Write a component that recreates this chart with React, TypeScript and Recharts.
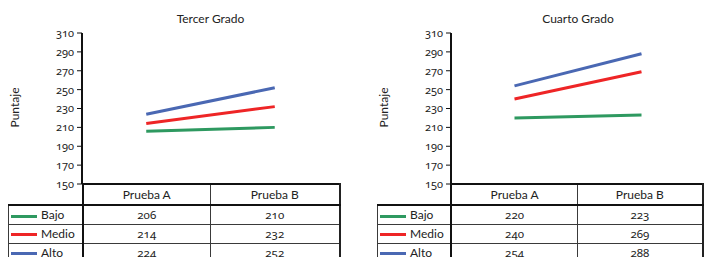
import { Line, LineChart, XAxis, YAxis } from "recharts";

const pruebas = ["Prueba A", "Prueba B"];
const niveles = ["Bajo", "Medio", "Alto"];
const colores = ["#2e9960", "#ee2526", "#4a68b3"];
const yTicks = [150, 170, 190, 210, 230, 250, 270, 290, 310];

const tercerBajo = [206, 210];
const tercerMedio = [214, 232];
const tercerAlto = [224, 252];

const cuartoBajo = [220, 223];
const cuartoMedio = [240, 269];
const cuartoAlto = [254, 288];

const font = "Lato, 'Open Sans', sans-serif";
const numFont = "'Noto Sans', Lato, sans-serif";

interface PanelProps {
  left: number;
  axisX: number;
  colW: number[];
  title: string;
  series: number[][];
}

function Panel({ left, axisX, colW, title, series }: PanelProps) {
  const data = pruebas.map((p, i) => ({
    prueba: p,
    Bajo: series[0][i],
    Medio: series[1][i],
    Alto: series[2][i]
  }));
  const plotW = colW[1] + colW[2];
  const tableLeft = axisX - colW[0];
  const cell = { fontSize: 12, textAlign: "center" as const, padding: 0 };
  const num = { ...cell, fontSize: 11.5, fontFamily: numFont, fontFeatureSettings: "'onum' 1" };
  const thin = "1px solid #3a3a3a";

  return (
    <div style={{ position: "absolute", left, top: 0, width: 352, height: 257 }}>
      <div
        style={{
          position: "absolute",
          left: axisX,
          width: plotW,
          top: 11,
          textAlign: "center",
          fontSize: 12,
          color: "#222"
        }}
      >
        {title}
      </div>
      <div
        style={{
          position: "absolute",
          left: tableLeft - 24,
          top: 100,
          width: 60,
          textAlign: "center",
          fontSize: 12,
          color: "#222",
          transform: "rotate(-90deg)"
        }}
      >
        Puntaje
      </div>
      <div style={{ position: "absolute", left: 0, top: 0, zIndex: 1, pointerEvents: "none" }}>
        <LineChart width={axisX + plotW} height={196} data={data} margin={{ top: 33, right: 0, bottom: 12, left: 0 }}>
          <XAxis dataKey="prueba" scale="band" hide />
          <YAxis
            width={axisX}
            domain={[150, 310]}
            ticks={yTicks}
            interval={0}
            tickSize={5}
            tickMargin={3}
            axisLine={{ stroke: "#111", strokeWidth: 2 }}
            tickLine={{ stroke: "#111", strokeWidth: 1 }}
            tick={{ fill: "#222", fontSize: 11, fontFamily: numFont, style: { fontFeatureSettings: "'onum' 1" } }}
          />
          {niveles.map((n, i) => (
            <Line
              key={n}
              dataKey={n}
              stroke={colores[i]}
              strokeWidth={3}
              dot={false}
              isAnimationActive={false}
            />
          ))}
        </LineChart>
      </div>
      <table
        style={{
          position: "absolute",
          left: tableLeft,
          top: 183,
          borderCollapse: "collapse",
          tableLayout: "fixed",
          color: "#222"
        }}
      >
        <colgroup>
          {colW.map((w, i) => (
            <col key={i} style={{ width: w }} />
          ))}
        </colgroup>
        <tbody>
          <tr style={{ height: 21 }}>
            <td style={{ ...cell, borderRight: "2px solid #111", borderBottom: "2px solid #111" }} />
            {pruebas.map((p, i) => (
              <td
                key={p}
                style={{
                  ...cell,
                  borderTop: "2px solid #111",
                  borderBottom: "2px solid #111",
                  borderRight: i === 1 ? "2px solid #222" : thin
                }}
              >
                {p}
              </td>
            ))}
          </tr>
          {niveles.map((n, r) => (
            <tr key={n} style={{ height: 19 }}>
              <td
                style={{
                  ...cell,
                  textAlign: "left",
                  borderLeft: thin,
                  borderBottom: thin,
                  borderRight: "2px solid #111",
                  whiteSpace: "nowrap"
                }}
              >
                <span
                  style={{
                    display: "inline-block",
                    width: 26,
                    height: 3,
                    background: colores[r],
                    verticalAlign: "middle",
                    margin: "0 4px 0 2px"
                  }}
                />
                {n}
              </td>
              {series[r].map((v, i) => (
                <td key={i} style={{ ...num, borderBottom: thin, borderRight: i === 1 ? "2px solid #222" : thin }}>
                  {v}
                </td>
              ))}
            </tr>
          ))}
        </tbody>
      </table>
    </div>
  );
}

export default function App() {
  return (
    <div
      style={{
        position: "absolute",
        left: 0,
        top: 0,
        width: 704,
        height: 257,
        overflow: "hidden",
        background: "#fff",
        fontFamily: font
      }}
    >
      <Panel left={0} axisX={82} colW={[74, 128, 129]} title="Tercer Grado" series={[tercerBajo, tercerMedio, tercerAlto]} />
      <Panel left={352} axisX={99} colW={[74, 127, 127]} title="Cuarto Grado" series={[cuartoBajo, cuartoMedio, cuartoAlto]} />
    </div>
  );
}
